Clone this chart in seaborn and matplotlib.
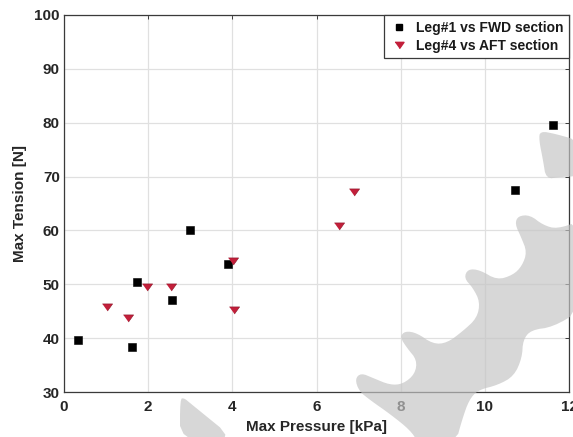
import numpy as np
import pandas as pd
import matplotlib
matplotlib.use("Agg")
import matplotlib.pyplot as plt
from matplotlib.patches import Polygon
from matplotlib.lines import Line2D
import seaborn as sns

# Leg#1 vs FWD section
fwd_pressure = [0.34, 1.62, 1.74, 2.57, 2.99, 3.89, 10.71, 11.61]
fwd_tension = [39.7, 38.3, 50.5, 47.1, 60.1, 53.8, 67.5, 79.6]
# Leg#4 vs AFT section
aft_pressure = [1.03, 1.51, 1.97, 2.54, 4.01, 4.03, 6.53, 6.88]
aft_tension = [45.7, 43.7, 49.5, 49.5, 54.4, 45.2, 60.9, 67.2]

series_names = ["Leg#1 vs FWD section", "Leg#4 vs AFT section"]
x_ticks = [0, 2, 4, 6, 8, 10, 12]
y_ticks = [30, 40, 50, 60, 70, 80, 90, 100]

fwd = pd.DataFrame({"pressure": fwd_pressure, "tension": fwd_tension})
aft = pd.DataFrame({"pressure": aft_pressure, "tension": aft_tension})

sns.set_style("white")
plt.rcParams["font.family"] = ["Liberation Sans", "DejaVu Sans"]
plt.rcParams["font.weight"] = "bold"

W, H = 573, 437
fig = plt.figure(figsize=(W / 100, H / 100), dpi=100)
fig.patch.set_facecolor("white")
ax = fig.add_axes([64 / W, 1 - 392 / H, (569 - 64) / W, (392 - 15) / H])

red = "#c21f3a"
tri = [(-1.0, 0.7), (1.0, 0.7), (0.0, -0.7)]
sns.scatterplot(data=fwd, x="pressure", y="tension", color="black", marker="s",
                s=26, linewidth=0.4, edgecolor="black", ax=ax, zorder=3)
sns.scatterplot(data=aft, x="pressure", y="tension", color=red, marker=tri,
                s=54, linewidth=0.4, edgecolor="#8a1428", ax=ax, zorder=3)

ax.set_xlim(0, 12)
ax.set_ylim(30, 100)
ax.set_xticks(x_ticks)
ax.set_yticks(y_ticks)
ax.set_xticklabels([str(v) for v in x_ticks])
ax.set_yticklabels([str(v) for v in y_ticks])
ax.grid(True, color="#e0e0e0", linewidth=0.9, zorder=0)
ax.set_axisbelow(True)

frame = "#3a3a3a"
for sp in ax.spines.values():
    sp.set_visible(True)
    sp.set_color(frame)
    sp.set_linewidth(0.9)
ax.tick_params(axis="both", which="both", direction="in", length=3, width=0.7,
               color=frame, top=True, right=True, labelsize=11,
               labelcolor="#262626")
ax.tick_params(axis="x", pad=6)
ax.tick_params(axis="y", pad=3)
for lab in ax.get_xticklabels() + ax.get_yticklabels():
    lab.set_fontweight("bold")

ax.set_xlabel("Max Pressure [kPa]", fontsize=11, fontweight="bold", color="#262626", labelpad=4)
ax.set_ylabel("Max Tension [N]", fontsize=11, fontweight="bold", color="#262626", labelpad=5)

handles = [
    Line2D([], [], linestyle="none", marker="s", markersize=4.5, color="black"),
    Line2D([], [], linestyle="none", marker=tri, markersize=6.5, color=red),
]
leg = ax.legend(handles, series_names, loc="upper right", borderaxespad=0,
                fancybox=False, frameon=True, borderpad=0.4,
                handlelength=1.3, handletextpad=0.6, labelspacing=0.3,
                prop={"weight": "bold", "size": 10})
leg.get_frame().set_edgecolor(frame)
leg.get_frame().set_linewidth(0.9)
leg.get_frame().set_alpha(1)
for t in leg.get_texts():
    t.set_color("#1a1a1a")
leg.set_zorder(5)


# light grey background stamp shapes (pixel coordinates, y from top)
def px(points):
    return [(x / W, 1 - y / H) for x, y in points]


def rounded(points, passes=2, closed=True):
    """Chaikin corner cutting to soften an outline."""
    pts = np.asarray(points, dtype=float)
    for _ in range(passes):
        nxt = np.roll(pts, -1, axis=0) if closed else pts[1:]
        cur = pts if closed else pts[:-1]
        q = 0.75 * cur + 0.25 * nxt
        r = 0.25 * cur + 0.75 * nxt
        pts = np.empty((2 * len(cur), 2))
        pts[0::2] = q
        pts[1::2] = r
    return [tuple(p) for p in pts]


stamp = dict(facecolor="#c4c4c4", edgecolor="none", alpha=0.68,
             transform=fig.transFigure, zorder=10)

wedge_top = [(540, 131), (556, 134), (580, 141), (580, 176), (560, 177),
             (546, 179), (543, 160), (539, 140)]
band = [(580, 221), (557, 229), (543, 225), (530, 215), (518, 216), (515, 224),
        (521, 237), (527, 252), (522, 266), (513, 275), (497, 280), (480, 270),
        (468, 269), (464, 278), (473, 288), (480, 302), (477, 318), (463, 331),
        (447, 343), (433, 344), (417, 333), (405, 331), (400, 337), (407, 348),
        (417, 360), (415, 374), (403, 384), (390, 385), (373, 378), (361, 373),
        (355, 379), (359, 391), (370, 400), (390, 414), (410, 430), (418, 442),
        (456, 442), (462, 420), (469, 400), (478, 390), (498, 385), (514, 376),
        (522, 358), (523, 340), (531, 330), (553, 327), (580, 311)]
corner = [(180, 399), (184, 398), (190, 403), (238, 442), (180, 442)]

for shape in (wedge_top, band, corner):
    fig.patches.append(Polygon(px(rounded(shape)), closed=True, **stamp))

fig.savefig("out.png", dpi=100)
